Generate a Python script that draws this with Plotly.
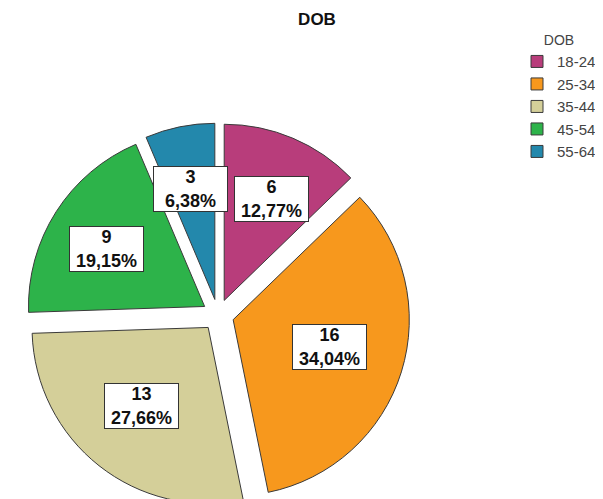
import math
import plotly.graph_objects as go

categories = ["18-24", "25-34", "35-44", "45-54", "55-64"]
counts = [6, 16, 13, 9, 3]
colors = ["#B83D7B", "#F7981D", "#D4CF99", "#2DB34A", "#2388AC"]

W, H = 603, 499
pull = 0.09
cx0, half = 210, 192
dom_x = [(cx0 - half) / W, (cx0 + half) / W]
dom_y = [0.0, 2 * half / H]

total = sum(counts)
labels_txt = []
for c in counts:
    pct = f"{100 * c / total:.2f}".replace(".", ",")
    labels_txt.append(f"{c}<br>{pct}%")

fig = go.Figure()
fig.add_trace(go.Pie(
    labels=categories,
    values=counts,
    sort=False,
    direction="clockwise",
    rotation=0,
    pull=[pull] * len(counts),
    marker=dict(colors=colors, line=dict(color="#3a3a3a", width=1)),
    textinfo="none",
    hoverinfo="label+value+percent",
    domain=dict(x=dom_x, y=dom_y),
    showlegend=True,
))

# label positions derived from slice angles (sector centroid + pull)
cx_px = (dom_x[0] + dom_x[1]) / 2 * W
cy_px = (1 - (dom_y[0] + dom_y[1]) / 2) * H
r_px = min((dom_x[1] - dom_x[0]) * W, (dom_y[1] - dom_y[0]) * H) / 2 / (1 + pull)
cum = 0
annotations = []
for c, t in zip(counts, labels_txt):
    frac = c / total
    mid = (cum + c / 2) / total * 2 * math.pi
    cum += c
    a = frac * math.pi  # half-angle
    cen = 2 * math.sin(a) / (3 * a)
    d = (pull + 1.05 * cen) * r_px
    x = cx_px + d * math.sin(mid)
    y = cy_px - 0.93 * d * math.cos(mid)
    annotations.append(dict(
        x=x / W, y=1 - y / H, xref="paper", yref="paper",
        xanchor="center", yanchor="middle",
        text=f"<b>{t}</b>", showarrow=False,
        font=dict(family="Arial, Liberation Sans", size=18, color="#111"),
        bgcolor="white", bordercolor="#333", borderwidth=1, borderpad=1,
        width=71, height=42, align="center",
    ))

fig.update_layout(
    width=W, height=H,
    margin=dict(l=0, r=0, t=0, b=0),
    paper_bgcolor="white", plot_bgcolor="white",
    title=dict(text="<b>DOB</b>", x=309 / W, xanchor="center", y=1 - 11 / H, yanchor="middle",
               font=dict(family="Arial, Liberation Sans", size=17, color="#111")),
    legend=dict(
        title=dict(text="DOB", side="top center",
                   font=dict(family="Arial, Liberation Sans", size=14, color="#444")),
        font=dict(family="Arial, Liberation Sans", size=15, color="#444"),
        x=509 / W, xanchor="left", y=1 - 19 / H, yanchor="top",
        itemwidth=30, tracegroupgap=0, bgcolor="rgba(0,0,0,0)",
    ),
    annotations=annotations,
    font=dict(family="Arial, Liberation Sans"),
)

fig.write_html("out.html")
